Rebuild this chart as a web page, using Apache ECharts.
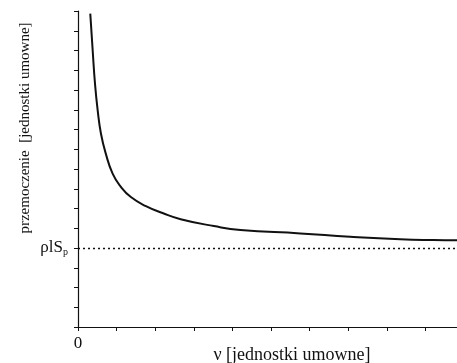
<!DOCTYPE html>
<html><head><meta charset="utf-8">
<script src="https://cdn.jsdelivr.net/npm/echarts@6/dist/echarts.min.js"></script>
<style>html,body{margin:0;padding:0;background:#fff}#c{width:457px;height:363px}</style>
</head><body><div id="c"></div>
<script>
const curveX = [0.318, 0.38, 0.44, 0.51, 0.594, 0.72, 0.897, 1.11, 1.37, 1.76, 2.19, 2.66, 3.52, 4.21, 5.76, 7.05, 8.35, 9.2, 9.82];
const curveY = [15.87, 14.01, 12.33, 10.97, 9.80, 8.78, 7.77, 7.10, 6.58, 6.12, 5.77, 5.46, 5.11, 4.91, 4.74, 4.57, 4.44, 4.40, 4.39];
const levelY = 4;
const levelLabel = 'ρlS';
const levelSub = 'p';
const xAxisTitle = 'ν [jednostki umowne]';
const yAxisTitle = 'przemoczenie  [jednostki umowne]';
const xMax = 9.82, yMax = 16;

const font = '"Liberation Serif", "DejaVu Serif", serif';
const chart = echarts.init(document.getElementById('c'));
chart.setOption({
  animation: false,
  backgroundColor: '#fff',
  grid: { left: 78, top: 11, right: 0, bottom: 36, containLabel: false, outerBoundsMode: 'none' },
  xAxis: {
    type: 'value', min: 0, max: xMax, interval: 1,
    axisLine: { lineStyle: { color: '#111', width: 1.2 } },
    axisTick: { show: true, length: 4, inside: false, lineStyle: { color: '#111' } },
    splitLine: { show: false },
    axisLabel: { color: '#111', fontFamily: font, fontSize: 17, margin: 8,
      formatter: v => v === 0 ? '0' : '' }
  },
  yAxis: {
    type: 'value', min: 0, max: yMax, interval: 1,
    axisLine: { show: true, lineStyle: { color: '#111', width: 1.2 } },
    axisTick: { show: true, length: 4, lineStyle: { color: '#111' } },
    splitLine: { show: false },
    axisLabel: { color: '#111', fontFamily: font, margin: 10,
      formatter: v => v === levelY ? '{a|' + levelLabel + '}{b|' + levelSub + '}' : '',
      rich: {
        a: { fontFamily: font, fontSize: 17, color: '#111' },
        b: { fontFamily: font, fontSize: 10, color: '#111', padding: [8, 0, 0, 0] }
      } }
  },
  graphic: [{
    type: 'text', x: 25, y: 128, rotation: Math.PI / 2,
    style: { text: yAxisTitle, fontFamily: font, fontSize: 15, fill: '#111',
      textAlign: 'center', textVerticalAlign: 'middle' }
  }, {
    type: 'text', x: 292, y: 355,
    style: { text: xAxisTitle, fontFamily: font, fontSize: 18, fill: '#111',
      textAlign: 'center', textVerticalAlign: 'middle' }
  }],
  series: [{
    type: 'line', smooth: 0.5, symbol: 'none',
    lineStyle: { color: '#111', width: 2 },
    data: curveX.map((x, i) => [x, curveY[i]]),
    markLine: {
      silent: true, symbol: 'none', label: { show: false },
      lineStyle: { color: '#111', type: [2, 3], width: 1.3 },
      data: [{ yAxis: levelY }]
    }
  }]
});
</script></body></html>
